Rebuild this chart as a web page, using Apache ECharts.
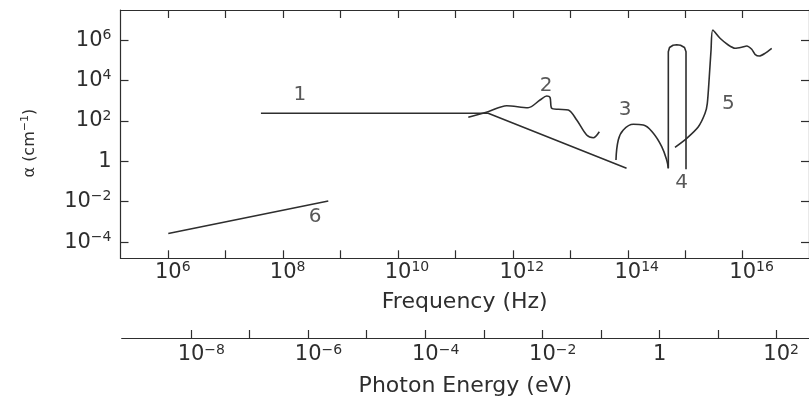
<!DOCTYPE html>
<html>
<head>
<meta charset="utf-8">
<script src="https://cdn.jsdelivr.net/npm/echarts@6/dist/echarts.min.js"></script>
<style>
  html, body { margin: 0; padding: 0; background: #fff; }
  #chart { width: 809px; height: 400px; }
</style>
</head>
<body>
<div id="chart"></div>
<script>
// curve 1: flat, then falling (free carriers)
const curve1Freq = [4.1e7, 3.7e11, 9.5e13]
const curve1Alpha = [240, 240, 0.45]
// curve 2: lattice bands
const curve2Freq = [1.67e11, 3.68e11, 7.78e11, 1.83e12, 2.96e12, 3.87e12, 4.42e12, 4.73e12, 6.17e12, 9.2e12, 1.29e13, 1.92e13, 2.51e13, 3.19e13]
const curve2Alpha = [151, 285, 565, 450, 1080, 1710, 1470, 420, 375, 347, 111, 20, 14.7, 29]
// curve 3
const curve3Freq = [6.22e13, 6.82e13, 8.34e13, 1.245e14, 1.862e14, 2.78e14, 3.89e14, 4.75e14, 5.07e14]
const curve3Alpha = [1.16, 11.3, 35.5, 67.9, 62.7, 24.3, 5.28, 1.16, 0.45]
// curve 4: narrow band
const curve4Freq = [5.07e14, 5.07e14, 5.32e14, 6.12e14, 7.10e14, 8.26e14, 9.70e14, 1.03e15, 1.03e15]
const curve4Alpha = [0.45, 2.67e5, 4.3e5, 5.53e5, 5.85e5, 5.53e5, 4.3e5, 2.67e5, 0.40]
// curve 5: band edge and beyond
const curve5Freq = [6.62e14, 1.06e15, 1.69e15, 2.21e15, 2.42e15, 2.62e15, 2.81e15, 3.01e15, 4.03e15, 5.61e15, 7.35e15, 9.62e15, 1.175e16, 1.435e16, 1.637e16, 1.945e16, 2.443e16, 3.2e16]
const curve5Alpha = [4.93, 13.8, 51.6, 238, 743, 1.54e4, 3.24e5, 3.16e6, 1.23e6, 5.71e5, 3.93e5, 4.41e5, 5.11e5, 3.51e5, 1.98e5, 1.63e5, 2.22e5, 3.93e5]
// curve 6
const curve6Freq = [1.0e6, 6.1e8]
const curve6Alpha = [2.7e-4, 1.08e-2]

const freqTicks = [1e6, 1e7, 1e8, 1e9, 1e10, 1e11, 1e12, 1e13, 1e14, 1e15, 1e16]
const freqLabels = [1e6, 1e8, 1e10, 1e12, 1e14, 1e16]
const alphaTicks = [1e-4, 1e-2, 1, 1e2, 1e4, 1e6]
const energyTicks = [1e-8, 1e-7, 1e-6, 1e-5, 1e-4, 1e-3, 1e-2, 1e-1, 1, 1e1, 1e2]
const energyLabels = [1e-8, 1e-6, 1e-4, 1e-2, 1, 1e2]

// where the curve numbers sit
const curveNames = ['1', '2', '3', '4', '5', '6']
const curveNameAt = [[1.96e8, 1915], [3.78e12, 5350], [8.95e13, 347], [8.67e14, 0.087], [5.61e15, 743], [3.59e8, 1.8e-3]]

const ink = '#2e2e2e'
const font = 'DejaVu Sans'

const pair = (xs, ys) => xs.map((x, i) => [x, ys[i]])

const expText = v => {
  const e = Math.round(Math.log10(v))
  return e < 0 ? '\u2212' + (-e) : '' + e
}
// centred labels: a hidden copy of the exponent on the left keeps "10" over the tick
const centredLabel = v => {
  const s = expText(v)
  if (s === '0') return '1'
  return '{g|' + s + '}10{s|' + s + '}'
}
const rightLabel = v => {
  const s = expText(v)
  if (s === '0') return '1'
  return '10{s|' + s + '}'
}
const rich = {
  s: { fontSize: 14, fontFamily: font, color: ink, verticalAlign: 'top', lineHeight: 14 },
  g: { fontSize: 14, fontFamily: font, color: 'rgba(0,0,0,0)', verticalAlign: 'top', lineHeight: 14 }
}
const nameRich = {
  s: { fontSize: 11, fontFamily: font, color: ink, verticalAlign: 'top', lineHeight: 11 }
}

const axisLine = { show: true, lineStyle: { color: ink, width: 1.2 } }
const tick = (vals) => ({ show: true, inside: true, length: 8, customValues: vals, lineStyle: { color: ink, width: 1.2 } })
const labelStyle = { fontSize: 21, lineHeight: 24, color: ink, fontFamily: font, rich: rich }
const titleStyle = { fontSize: 22, lineHeight: 26, color: ink, fontFamily: font }

const lineSeries = (data, smooth) => ({
  type: 'line',
  xAxisIndex: 0,
  yAxisIndex: 0,
  data: data,
  smooth: smooth,
  symbol: 'none',
  lineStyle: { color: ink, width: 1.6 },
  silent: true
})

const chart = echarts.init(document.getElementById('chart'))
chart.setOption({
  animation: false,
  textStyle: { fontFamily: font },
  grid: [
    { left: 120.5, top: 10, width: 688.5, height: 248.3 },
    { left: 121.7, top: 337.3, width: 687.3, height: 1 }
  ],
  xAxis: [
    {
      type: 'log', gridIndex: 0, position: 'bottom',
      min: Math.pow(10, 5.168), max: Math.pow(10, 17.154),
      axisLine: axisLine, axisTick: tick(freqTicks), splitLine: { show: false },
      axisLabel: Object.assign({ customValues: freqLabels, formatter: centredLabel, margin: 2 }, labelStyle),
      name: 'Frequency (Hz)', nameLocation: 'middle', nameGap: 29,
      nameTextStyle: titleStyle
    },
    {
      type: 'log', gridIndex: 0, position: 'top',
      min: Math.pow(10, 5.168), max: Math.pow(10, 17.154),
      axisLine: axisLine, axisTick: tick(freqTicks), splitLine: { show: false },
      axisLabel: { show: false }
    },
    {
      type: 'log', gridIndex: 1, position: 'bottom',
      min: Math.pow(10, -9.183), max: Math.pow(10, 2.551),
      axisLine: axisLine, axisTick: tick(energyTicks), splitLine: { show: false },
      axisLabel: Object.assign({ customValues: energyLabels, formatter: centredLabel, margin: 5 }, labelStyle),
      name: 'Photon Energy (eV)', nameLocation: 'middle', nameGap: 35,
      nameTextStyle: titleStyle
    }
  ],
  yAxis: [
    {
      type: 'log', gridIndex: 0, position: 'left',
      min: Math.pow(10, -4.80), max: Math.pow(10, 7.49),
      axisLine: axisLine, axisTick: tick(alphaTicks), splitLine: { show: false },
      axisLabel: Object.assign({ customValues: alphaTicks, formatter: rightLabel, margin: 9 }, labelStyle),
      name: '\u03b1 (cm{s|\u22121})', nameLocation: 'middle', nameGap: 81,
      nameTextStyle: { fontSize: 16, lineHeight: 20, color: ink, fontFamily: font, rich: nameRich, padding: [0, 18, 0, 0] }
    },
    {
      type: 'log', gridIndex: 0, position: 'right',
      min: Math.pow(10, -4.80), max: Math.pow(10, 7.49),
      axisLine: axisLine, axisTick: tick(alphaTicks), splitLine: { show: false },
      axisLabel: { show: false }
    },
    { type: 'value', gridIndex: 1, show: false, min: 0, max: 1 }
  ],
  series: [
    lineSeries(pair(curve1Freq, curve1Alpha), false),
    lineSeries(pair(curve2Freq, curve2Alpha), 0.3),
    lineSeries(pair(curve3Freq, curve3Alpha), 0.4),
    lineSeries(pair(curve4Freq, curve4Alpha), false),
    lineSeries(pair(curve5Freq, curve5Alpha), 0.25),
    lineSeries(pair(curve6Freq, curve6Alpha), false),
    {
      type: 'scatter', xAxisIndex: 0, yAxisIndex: 0, symbolSize: 0, silent: true,
      data: curveNames.map((n, i) => ({ name: n, value: curveNameAt[i] })),
      label: { show: true, position: 'inside', formatter: '{b}', fontSize: 20, color: ink, fontFamily: font }
    }
  ]
})
</script>
</body>
</html>
